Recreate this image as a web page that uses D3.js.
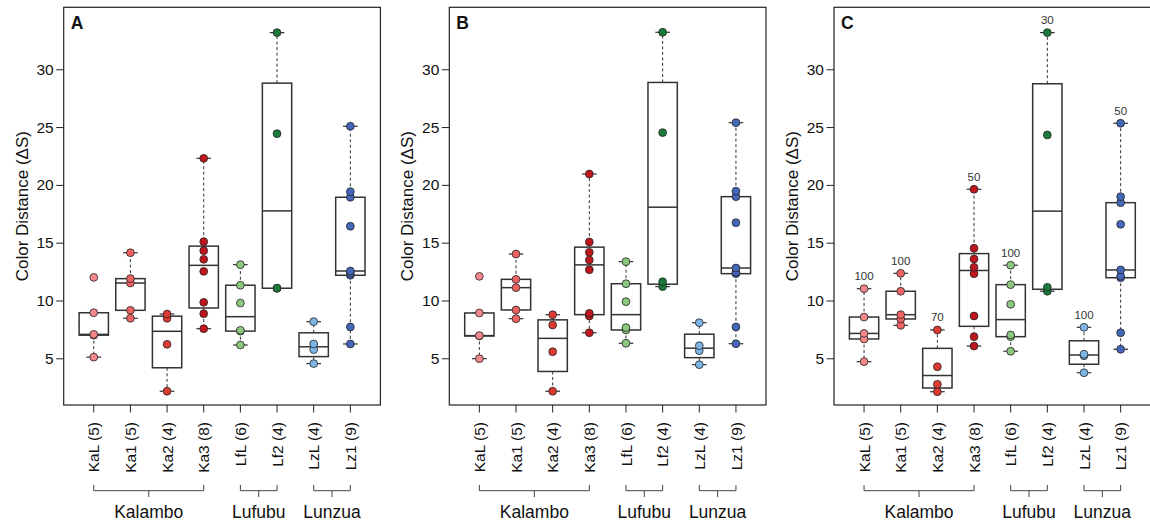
<!DOCTYPE html>
<html>
<head>
<meta charset="utf-8">
<script src="https://cdn.jsdelivr.net/npm/d3@7"></script>
<style>
  body { margin: 0; background: #fff; }
  text { font-family: "Liberation Sans", Arial, Helvetica, sans-serif; }
</style>
</head>
<body>
<div id="grafico"></div>
<script>
// --- 1. DATA ---
const categories = ["KaL", "Ka1", "Ka2", "Ka3", "LfL", "Lf2", "LzL", "Lz1"];
const pointColors = ["#f3878b", "#ee6464", "#dd3a32", "#c0161e", "#8cc87e", "#1b7a3a", "#7db6e6", "#4467b9"];

const panelA = [
  [5.1, 7.0, 7.07, 8.94, 12.0],
  [8.46, 9.15, 11.51, 11.89, 14.13],
  [2.15, 6.21, 8.46, 8.83],
  [7.56, 8.86, 9.84, 12.52, 13.56, 14.31, 15.09, 22.3],
  [6.15, 7.35, 7.42, 9.78, 11.32, 13.1],
  [11.05, 11.07, 24.43, 33.17],
  [4.54, 5.75, 6.24, 8.17],
  [6.24, 7.71, 12.18, 12.35, 12.55, 16.42, 18.93, 19.41, 25.07]
];

const panelB = [
  [4.97, 6.93, 6.96, 8.92, 12.09],
  [8.43, 9.18, 11.11, 11.83, 14.02],
  [2.15, 5.57, 7.88, 8.77],
  [7.21, 8.66, 8.89, 12.66, 13.5, 14.17, 15.06, 20.94],
  [6.3, 7.45, 7.65, 9.9, 11.45, 13.36],
  [11.2, 11.62, 24.52, 33.2],
  [4.45, 5.66, 6.09, 8.08],
  [6.26, 7.71, 12.32, 12.45, 12.81, 16.73, 18.98, 19.45, 25.38]
];

const panelC = [
  [4.71, 6.67, 7.15, 8.57, 11.02],
  [7.85, 8.4, 8.77, 10.8, 12.35],
  [2.11, 2.75, 4.27, 7.45],
  [6.06, 6.87, 8.66, 12.32, 12.87, 13.59, 14.52, 19.62],
  [5.61, 6.87, 7.02, 9.67, 11.37, 13.05],
  [10.8, 11.14, 24.32, 33.17],
  [3.75, 5.22, 5.35, 7.68],
  [5.78, 7.21, 11.97, 12.1, 12.64, 16.59, 18.46, 18.98, 25.33]
];

const labelsC = ["100", "100", "70", "50", "100", "30", "100", "50"];

const panelLetters = ["A", "B", "C"];
const yTicks = [5, 10, 15, 20, 25, 30];
const groups = [
  {name: "Kalambo", from: 0, to: 3},
  {name: "Lufubu", from: 4, to: 5},
  {name: "Lunzua", from: 6, to: 7}
];

// --- 2. LAYOUT ---
const W = 1150, H = 527;
const panelLeft = [63.7, 449.3, 834];
const panelWidth = 316.7;
const plotTop = 7.3, plotBottom = 405;
const boxWex = 0.8;

const svg = d3.select("#grafico")
  .append("svg")
    .attr("width", W)
    .attr("height", H);

svg.append("rect").attr("width", W).attr("height", H).attr("fill", "#fff");

const y = d3.scaleLinear()
    .domain([0.96, 35.36])
    .range([plotBottom, plotTop]);

// R-style boxplot statistics (fivenum hinges + 1.5 IQR whiskers)
function boxStats(values) {
  const s = values.slice().sort((a, b) => a - b);
  const n = s.length;
  const n4 = Math.floor((n + 3) / 2) / 2;
  const d = [1, n4, (n + 1) / 2, n + 1 - n4, n];
  const f = d.map(v => 0.5 * (s[Math.floor(v) - 1] + s[Math.ceil(v) - 1]));
  const iqr = f[3] - f[1];
  const lo = d3.min(s.filter(v => v >= f[1] - 1.5 * iqr));
  const hi = d3.max(s.filter(v => v <= f[3] + 1.5 * iqr));
  return {q1: f[1], med: f[2], q3: f[3], lo: lo, hi: hi, max: s[n - 1]};
}

// --- 3. ONE PANEL ---
function drawPanel(idx, data, labels) {
  const L = panelLeft[idx];
  const x = d3.scaleLinear()
      .domain([0.18, 8.82])
      .range([L, L + panelWidth]);
  const unit = x(2) - x(1);
  const bw = boxWex * unit;

  const g = svg.append("g");

  // frame
  g.append("rect")
    .attr("x", L).attr("y", plotTop)
    .attr("width", panelWidth).attr("height", plotBottom - plotTop)
    .attr("fill", "none").attr("stroke", "#222").attr("stroke-width", 1.2);

  // y axis
  const yAxis = g.append("g")
      .attr("transform", `translate(${L},0)`)
      .call(d3.axisLeft(y).tickValues(yTicks).tickSize(7.5).tickPadding(2.5));
  yAxis.select(".domain").remove();
  yAxis.selectAll("line").attr("stroke", "#222");
  yAxis.selectAll("text")
      .attr("font-size", 15.5).attr("fill", "#111")
      .attr("font-family", '"Liberation Sans", Arial, sans-serif');

  g.append("text")
    .attr("transform", `translate(${L - 42},${(plotTop + plotBottom) / 2}) rotate(-90)`)
    .attr("text-anchor", "middle")
    .attr("dy", "0.35em")
    .attr("font-size", 17)
    .attr("fill", "#111")
    .text("Color Distance (\u0394S)");

  // panel letter
  g.append("text")
    .attr("x", L + 7).attr("y", 28.5)
    .attr("font-size", 17.5).attr("font-weight", "bold")
    .attr("fill", "#111")
    .text(panelLetters[idx]);

  // x ticks and rotated labels
  categories.forEach((c, i) => {
    const cx = x(i + 1);
    g.append("line")
      .attr("x1", cx).attr("x2", cx)
      .attr("y1", plotBottom).attr("y2", plotBottom + 7.5)
      .attr("stroke", "#222");
    g.append("text")
      .attr("transform", `translate(${cx},${plotBottom + 17}) rotate(-90)`)
      .attr("text-anchor", "end")
      .attr("dy", "0.36em")
      .attr("font-size", 15.5)
      .attr("fill", "#111")
      .text(`${c} (${data[i].length})`);
  });

  // group brackets
  groups.forEach(gr => {
    const x1 = x(gr.from + 1), x2 = x(gr.to + 1), xm = (x1 + x2) / 2;
    g.append("path")
      .attr("d", `M${x1},485 V490.7 H${x2} V485 M${xm},490.7 V497`)
      .attr("fill", "none").attr("stroke", "#444").attr("stroke-width", 1);
    g.append("text")
      .attr("x", xm).attr("y", 517.5)
      .attr("text-anchor", "middle")
      .attr("font-size", 17.5)
      .attr("fill", "#111")
      .text(gr.name);
  });

  // boxes
  data.forEach((vals, i) => {
    const st = boxStats(vals);
    const cx = x(i + 1);
    const bx = g.append("g");

    // whiskers (dashed)
    bx.append("line")
      .attr("x1", cx).attr("x2", cx)
      .attr("y1", y(st.q3)).attr("y2", y(st.hi))
      .attr("stroke", "#333").attr("stroke-dasharray", "3,2.5");
    bx.append("line")
      .attr("x1", cx).attr("x2", cx)
      .attr("y1", y(st.q1)).attr("y2", y(st.lo))
      .attr("stroke", "#333").attr("stroke-dasharray", "3,2.5");
    // staples
    [st.lo, st.hi].forEach(v => {
      bx.append("line")
        .attr("x1", cx - bw / 4).attr("x2", cx + bw / 4)
        .attr("y1", y(v)).attr("y2", y(v))
        .attr("stroke", "#333").attr("stroke-width", 1.2);
    });
    // box
    bx.append("rect")
      .attr("x", cx - bw / 2).attr("y", y(st.q3))
      .attr("width", bw).attr("height", y(st.q1) - y(st.q3))
      .attr("fill", "#fff").attr("stroke", "#333").attr("stroke-width", 1.5);
    // median
    bx.append("line")
      .attr("x1", cx - bw / 2).attr("x2", cx + bw / 2)
      .attr("y1", y(st.med)).attr("y2", y(st.med))
      .attr("stroke", "#333").attr("stroke-width", 1.5);

    // points
    bx.selectAll("circle")
      .data(vals)
      .join("circle")
        .attr("cx", cx)
        .attr("cy", d => y(d))
        .attr("r", 3.9)
        .attr("fill", pointColors[i])
        .attr("stroke", "#222")
        .attr("stroke-width", 0.8);

    // annotation above the box (panel C only)
    if (labels) {
      bx.append("text")
        .attr("x", cx).attr("y", y(st.max) - 12.5)
        .attr("dy", "0.35em")
        .attr("text-anchor", "middle")
        .attr("font-size", 11.5)
        .attr("fill", "#333")
        .text(labels[i]);
    }
  });
}

// --- 4. DRAW ---
drawPanel(0, panelA, null);
drawPanel(1, panelB, null);
drawPanel(2, panelC, labelsC);
</script>
</body>
</html>
